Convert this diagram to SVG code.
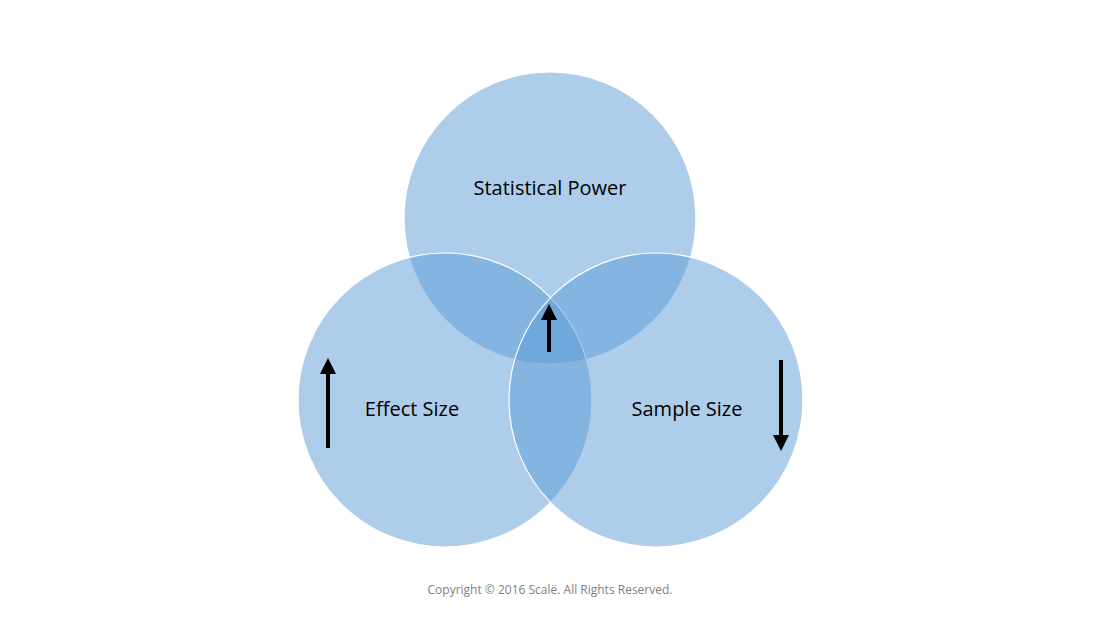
<svg xmlns="http://www.w3.org/2000/svg" width="1100" height="618" viewBox="0 0 1100 618">
<style>
.c{fill:#5b9bd5;fill-opacity:0.5;stroke:#fff;stroke-width:1.2}
.t{font-family:"Open Sans","Liberation Sans",sans-serif;font-size:20px;fill:#000;text-anchor:middle}
.a{stroke:#000;stroke-width:4;fill:none}
</style>
<defs><marker id="h" markerWidth="4" markerHeight="4" refX="1" refY="2" orient="auto"><path d="M0,0L4,2L0,4z" fill="#000"/></marker></defs>
<rect width="1100" height="618" fill="#fff"/>
<g id="power"><circle class="c" cx="550" cy="218" r="146"/></g>
<g id="effect"><circle class="c" cx="445" cy="400" r="147"/></g>
<g id="sample"><circle class="c" cx="656" cy="400" r="147"/></g>
<g id="labels">
<text class="t" x="550" y="195">Statistical Power</text>
<text class="t" x="412" y="416">Effect Size</text>
<text class="t" x="687" y="416">Sample Size</text>
</g>
<g id="connectors">
<line class="a" x1="549" y1="352" x2="549" y2="316" marker-end="url(#h)"/>
<line class="a" x1="328" y1="448" x2="328" y2="370" marker-end="url(#h)"/>
<line class="a" x1="781" y1="360" x2="781" y2="439" marker-end="url(#h)"/>
</g>
<text x="550" y="594" font-family="Open Sans,Liberation Sans,sans-serif" font-size="12" fill="#7f7f7f" text-anchor="middle">Copyright © 2016 Scalë. All Rights Reserved.</text>
</svg>
